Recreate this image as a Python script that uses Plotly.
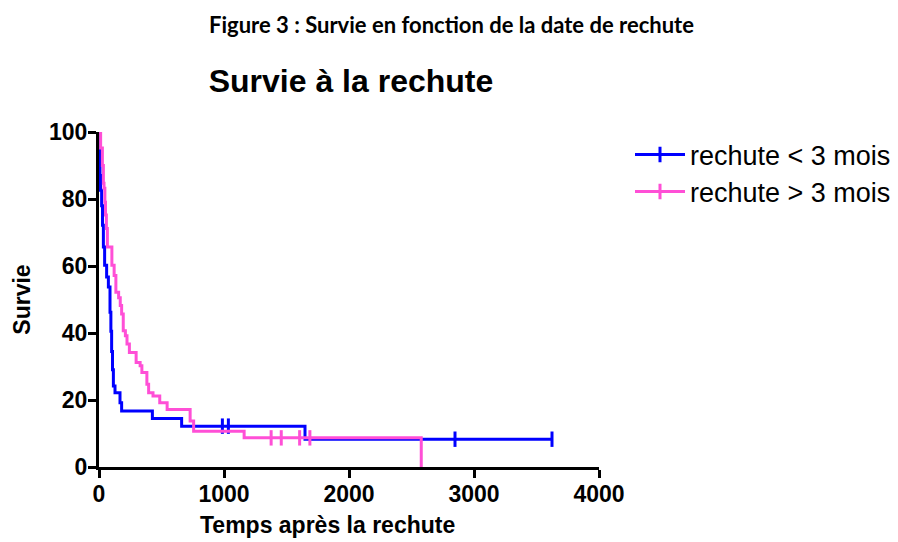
import numpy as np
import plotly.graph_objects as go

# ---- data ----
# Group "rechute < 3 mois": event times (days) and survival (%) after each step
blue_t = [0, 2, 5, 8, 12, 21, 28, 35, 45, 61, 75, 88, 95, 101, 108, 115, 128, 168, 181, 427, 661, 1648]
blue_s = [100, 95.7, 91.3, 87.0, 82.6, 78.0, 72.2, 65.7, 60.2, 56.7, 53.7, 46.2, 40.5, 34.5, 29.0, 24.2, 22.2, 19.2, 16.7, 14.5, 12.2, 8.3]
blue_censor = [987, 1035, 2848, 3624]

# Group "rechute > 3 mois"
pink_t = [0, 13, 27, 35, 40, 47, 52, 59, 67, 103, 121, 135, 157, 170, 181, 194, 211, 224, 243, 297,
          329, 343, 383, 397, 432, 486, 545, 729, 757, 1161, 2578]
pink_s = [100, 95.2, 90, 84.7, 83.2, 79, 75.2, 71.2, 65.7, 60.2, 57.2, 52.2, 50.5, 48.2, 45.7, 40.7, 39.2, 36.7, 34.2, 31.2,
          30.2, 28.2, 24.7, 22.2, 21.2, 19.2, 17.2, 13.7, 10.7, 8.7, 0]
pink_censor = [1377, 1458, 1605, 1687]

group_names = ["rechute < 3 mois", "rechute > 3 mois"]
x_ticks = [0, 1000, 2000, 3000, 4000]
y_ticks = [0, 20, 40, 60, 80, 100]

BLUE = "#0000FF"
PINK = "#FF4FD6"
FONT = "Liberation Sans, Arial, sans-serif"


def step_value(times, surv, t):
    i = np.searchsorted(np.asarray(times), t, side="right") - 1
    return surv[i]


fig = go.Figure()
groups = [
    (blue_t, blue_s, blue_censor, group_names[0], BLUE, "legend"),
    (pink_t, pink_s, pink_censor, group_names[1], PINK, "legend2"),
]
for times, surv, cens, name, col, leg in groups:
    xs = list(times)
    ys = list(surv)
    if max(cens) > xs[-1]:
        xs.append(max(cens))
        ys.append(surv[-1])
    fig.add_trace(go.Scatter(x=xs, y=ys, mode="lines", line=dict(color=col, width=3, shape="hv"),
                             showlegend=False, cliponaxis=False, hoverinfo="skip"))
    cy = [step_value(times, surv, c) for c in cens]
    fig.add_trace(go.Scatter(x=cens, y=cy, mode="markers",
                             marker=dict(symbol="line-ns", size=11, color=col,
                                         line=dict(color=col, width=3)),
                             showlegend=False, cliponaxis=False, hoverinfo="skip"))
    fig.add_trace(go.Scatter(x=[None], y=[None], mode="lines+markers", name=name,
                             line=dict(color=col, width=3),
                             marker=dict(symbol="line-ns", size=11, color=col,
                                         line=dict(color=col, width=3)),
                             legend=leg))

axis_common = dict(showline=True, linecolor="black", linewidth=3, ticks="outside", ticklen=8,
                   tickwidth=3, tickcolor="black", showgrid=False, zeroline=False, automargin=False,
                   tickfont=dict(family=FONT, size=23, color="black", weight="bold"))

legend_common = dict(xref="paper", yref="paper", xanchor="left", yanchor="middle",
                     font=dict(family=FONT, size=27, color="black"), bgcolor="rgba(0,0,0,0)", itemwidth=50)

fig.update_layout(
    width=898, height=542,
    margin=dict(l=99, r=299, t=132, b=75, autoexpand=False),
    paper_bgcolor="white", plot_bgcolor="white",
    xaxis=dict(range=[0, 4000], tickvals=x_ticks, ticklabelstandoff=-4, **axis_common),
    yaxis=dict(range=[0, 100], tickvals=y_ticks, ticklabelstandoff=-4,
               title=dict(text="Survie", font=dict(family=FONT, size=23, color="black", weight="bold"),
                          standoff=12),
               **axis_common),
    title=dict(text="Survie à la rechute", x=351 / 898, xref="container", xanchor="center",
               y=1 - 81 / 542, yref="container", yanchor="middle",
               font=dict(family=FONT, size=32, color="black", weight="bold")),
    legend=dict(x=1.062, y=(467 - 155) / 335, **legend_common),
    legend2=dict(x=1.062, y=(467 - 192) / 335, **legend_common),
    annotations=[
        dict(text="Figure 3 : Survie en fonction de la date de rechute", x=(451 - 99) / 500, y=(467 - 25) / 335,
             xref="paper", yref="paper", xanchor="center", yanchor="middle", showarrow=False,
             font=dict(family="Lato, sans-serif", size=22, color="black", weight="bold")),
        dict(text="Temps après la rechute", x=(327 - 99) / 500, y=(467 - 525) / 335,
             xref="paper", yref="paper", xanchor="center", yanchor="middle", showarrow=False,
             font=dict(family=FONT, size=23, color="black", weight="bold")),
    ],
)

fig.write_html("out.html", config={"displayModeBar": False},
               post_script="document.body.style.margin='0px';document.body.style.padding='0px';")
